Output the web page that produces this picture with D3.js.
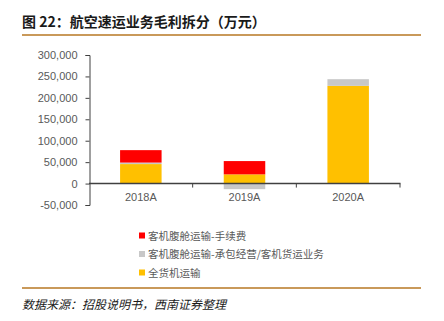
<!DOCTYPE html>
<html>
<head>
<meta charset="utf-8">
<script src="https://cdn.jsdelivr.net/npm/d3@7"></script>
<style>
  html, body { margin: 0; padding: 0; background: #fff; }
  svg { display: block; }
</style>
</head>
<body>
<svg id="chart" width="444" height="321"></svg>
<script>
// Gross profit breakdown of the air express business (unit: 10k CNY)
const categories = ["2018A", "2019A", "2020A"];
const freighterValues = [45500, 21500, 228000];      // 全货机运输
const bellyContractValues = [3500, -13000, 15600];   // 客机腹舱运输-承包经营/客机货运业务
const bellyFeeValues = [29000, 31000, 0];            // 客机腹舱运输-手续费
const yTicks = [-50000, 0, 50000, 100000, 150000, 200000, 250000, 300000];

const seriesNames = ["客机腹舱运输-手续费", "客机腹舱运输-承包经营/客机货运业务", "全货机运输"];
const seriesKeys = ["fee", "contract", "freighter"];
const colors = { fee: "#FF0000", contract: "#C8C8C8", freighter: "#FFC000" };

const rows = categories.map((c, i) => ({
  cat: c,
  freighter: freighterValues[i],
  contract: bellyContractValues[i],
  fee: bellyFeeValues[i]
}));

const svg = d3.select("#chart");
const latin = "'Liberation Sans', Arial, sans-serif";
const cjk = "'Noto Sans CJK SC', 'Liberation Sans', sans-serif";

// Title and rules
svg.append("text")
  .attr("x", 22).attr("y", 27)
  .attr("font-family", cjk)
  .attr("font-size", 14).attr("font-weight", "bold")
  .attr("fill", "#1a1a1a")
  .text("图 22：航空速运业务毛利拆分（万元）");
svg.append("line")
  .attr("x1", 22).attr("x2", 421).attr("y1", 35).attr("y2", 35)
  .attr("stroke", "#C9995A").attr("stroke-width", 2);
svg.append("line")
  .attr("x1", 22).attr("x2", 421).attr("y1", 288).attr("y2", 288)
  .attr("stroke", "#C9995A").attr("stroke-width", 2);
svg.append("text")
  .attr("x", 22).attr("y", 309)
  .attr("font-family", cjk)
  .attr("font-size", 12).attr("font-style", "italic")
  .attr("fill", "#1a1a1a")
  .text("数据来源：招股说明书，西南证券整理");

// Scales
const x = d3.scaleBand().domain(categories).range([89, 400]).paddingInner(0.6).paddingOuter(0.3);
const xOuter = d3.scaleBand().domain(categories).range([89, 400]);
const y = d3.scaleLinear().domain([-50000, 300000]).range([205, 55]);

// Stacked bars (negatives stack below zero)
const stack = d3.stack()
  .keys(["freighter", "contract", "fee"])
  .offset(d3.stackOffsetDiverging);
const stacked = stack(rows);

const barW = 41.5;
svg.append("g").selectAll("g")
  .data(stacked)
  .join("g")
  .attr("fill", d => colors[d.key])
  .selectAll("rect")
  .data(d => d.map(v => ({ v, cat: v.data.cat })))
  .join("rect")
  .attr("x", d => xOuter(d.cat) + xOuter.bandwidth() / 2 - barW / 2)
  .attr("width", barW)
  .attr("y", d => y(Math.max(d.v[0], d.v[1])))
  .attr("height", d => Math.abs(y(d.v[0]) - y(d.v[1])));

// Y axis
const yAxis = svg.append("g")
  .attr("transform", "translate(89.5,0)")
  .call(d3.axisLeft(y).tickValues(yTicks).tickSize(4).tickPadding(8)
    .tickFormat(d => d3.format(",")(d).replace("−", "-")));
yAxis.select(".domain").attr("stroke", "#404040");
yAxis.selectAll(".tick line").attr("stroke", "#404040");
yAxis.selectAll("text")
  .attr("font-family", latin).attr("font-size", 11).attr("fill", "#595959");

// X axis at zero
const xAxisG = svg.append("g")
  .attr("transform", `translate(0,${y(0)})`);
xAxisG.append("line")
  .attr("x1", 89).attr("x2", 400.5)
  .attr("stroke", "#404040").attr("stroke-width", 1.5);
xAxisG.selectAll("line.tk")
  .data(categories)
  .join("line")
  .attr("class", "tk")
  .attr("x1", d => xOuter(d) + xOuter.bandwidth())
  .attr("x2", d => xOuter(d) + xOuter.bandwidth())
  .attr("y1", 0).attr("y2", 4)
  .attr("stroke", "#404040");
xAxisG.selectAll("text")
  .data(categories)
  .join("text")
  .attr("x", d => xOuter(d) + xOuter.bandwidth() / 2)
  .attr("y", 17)
  .attr("text-anchor", "middle")
  .attr("font-family", latin).attr("font-size", 11).attr("fill", "#595959")
  .text(d => d);

// Legend
const legend = svg.append("g");
const legendItems = legend.selectAll("g")
  .data(seriesKeys)
  .join("g")
  .attr("transform", (d, i) => `translate(139,${235.5 + i * 18.5})`);
legendItems.append("rect")
  .attr("x", 0).attr("y", -3).attr("width", 6).attr("height", 6)
  .attr("fill", d => colors[d]);
legendItems.append("text")
  .attr("x", 9).attr("y", 4)
  .attr("font-family", cjk).attr("font-size", 10.5).attr("fill", "#595959")
  .text((d, i) => seriesNames[i]);
</script>
</body>
</html>
